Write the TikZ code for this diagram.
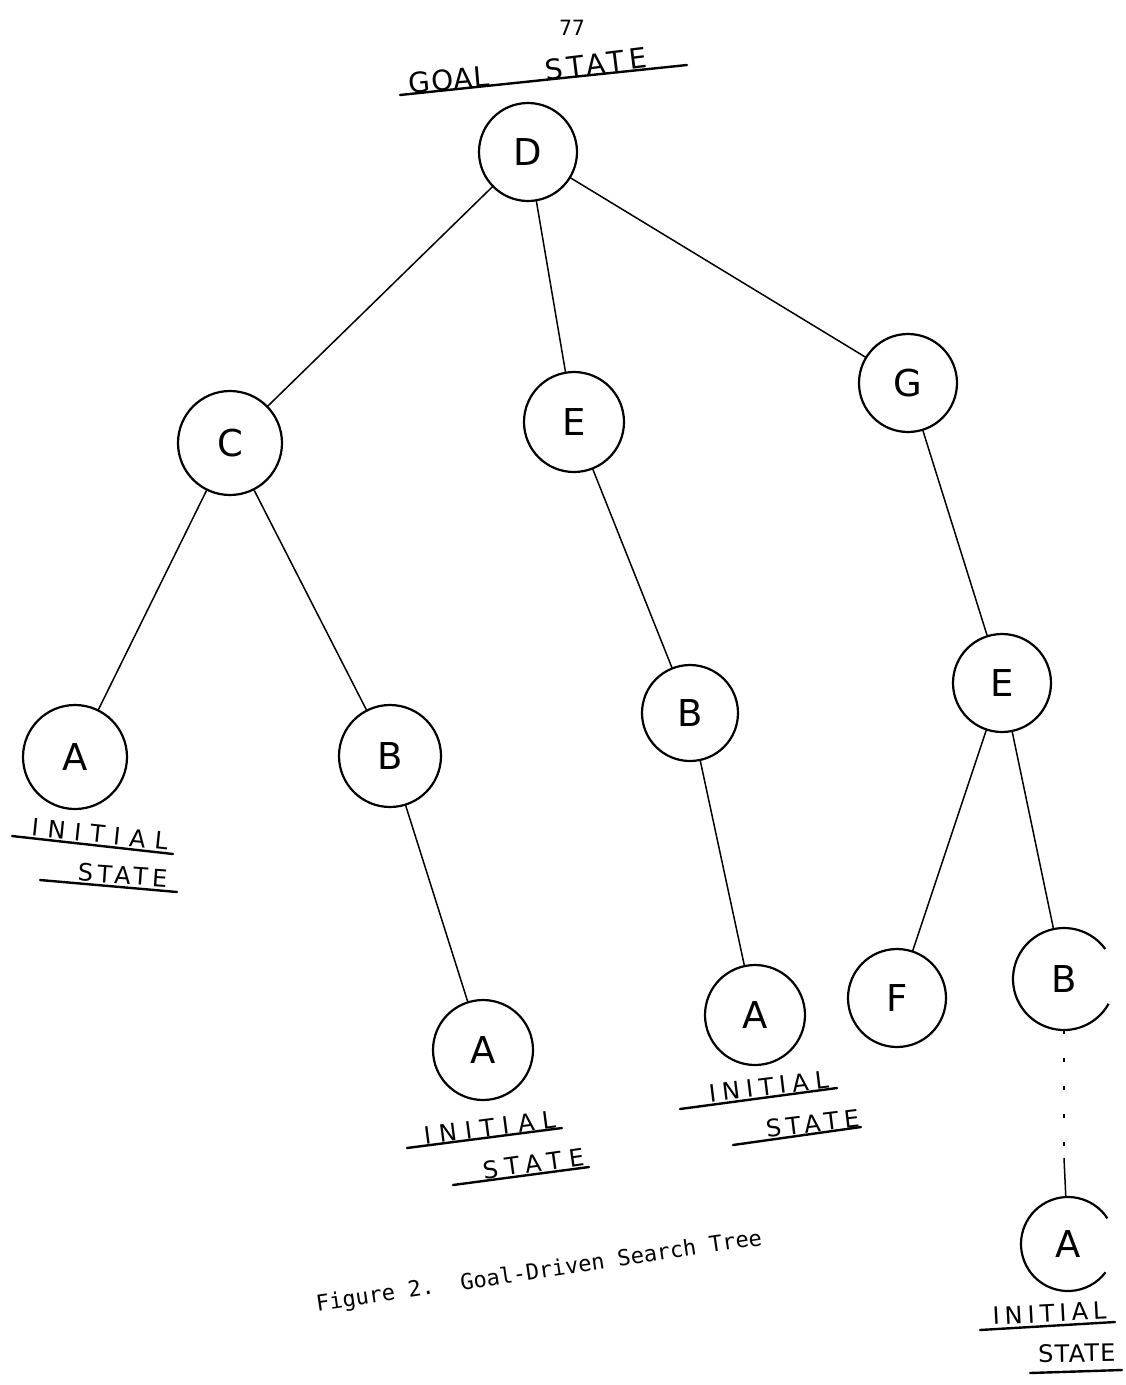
\documentclass[tikz,border=0pt]{standalone}
\usepackage{fontspec}
\newfontfamily\hand{DejaVu Sans}
\newfontfamily\typew{DejaVu Sans Mono}
\newcommand{\lsp}[1]{\addfontfeature{LetterSpace=#1}}
\tikzset{
  st/.style={circle, draw, line width=2.2pt, inner sep=0pt, outer sep=0pt,
             font=\hand\fontsize{37}{40}\selectfont},
  circ/.style={line width=2.2pt},
  edge/.style={line width=1.5pt},
  ul/.style={line width=2.4pt, line cap=round},
  lbl/.style={inner sep=0pt, anchor=base, font=\hand\fontsize{24}{28}\selectfont},
  big/.style={inner sep=0pt, anchor=base, font=\hand\fontsize{28}{31}\selectfont},
  tw/.style={inner sep=0pt, font=\typew\fontsize{22}{24}\selectfont}
}
\begin{document}
\begin{tikzpicture}[x=1pt, y=-1pt]
\useasboundingbox (0,0) rectangle (1126,1385);
\fill[white] (0,0) rectangle (1126,1385);

% page number and goal label
\node[tw, font=\typew\fontsize{21}{24}\selectfont] (pg) at (572,28) {77};
\node[big, rotate=5] (goal) at (450,90) {\lsp{4}GOAL};
\node[big, rotate=7] (goalst) at (597,74) {\lsp{16}STATE};
\draw[ul] (400,95) -- (687,65);

% nodes
\node[st, minimum size=98pt]  (D)  at (528,152)  {D};
\node[st, minimum size=104pt] (C)  at (230,443)  {C};
\node[st, minimum size=100pt] (E1) at (574,422)  {E};
\node[st, minimum size=98pt]  (G)  at (908,383)  {G};
\node[st, minimum size=104pt] (A1) at (75,757)   {A};
\node[st, minimum size=102pt] (B1) at (390,756)  {B};
\node[st, minimum size=96pt]  (B2) at (690,713)  {B};
\node[st, minimum size=98pt]  (E2) at (1002,683) {E};
\node[st, minimum size=100pt] (A2) at (483,1050) {A};
\node[st, minimum size=100pt] (A3) at (755,1015) {A};
\node[st, minimum size=98pt]  (F)  at (897,998)  {F};
\node[st, draw=none, minimum size=102pt] (B3) at (1064,979)  {B};
\node[st, draw=none, minimum size=94pt]  (A4) at (1068,1244) {A};
\draw[circ] (B3.36) arc[start angle=36, end angle=331, radius=51pt];
\draw[circ] (A4.33) arc[start angle=33, end angle=323, radius=47pt];

% edges
\draw[edge] (D) -- (C);
\draw[edge] (D) -- (E1);
\draw[edge] (D) -- (G);
\draw[edge] (C) -- (A1);
\draw[edge] (C) -- (B1);
\draw[edge] (E1) -- (B2);
\draw[edge] (G) -- (E2);
\draw[edge] (B1) -- (A2);
\draw[edge] (B2) -- (A3);
\draw[edge] (E2) -- (F);
\draw[edge] (E2) -- (B3);
\coordinate (dd) at (1064,1158);
\draw[edge, dash pattern=on 4pt off 24pt] (B3) -- (dd);
\draw[edge] (dd) -- (A4);

% INITIAL STATE labels
\node[lbl, rotate=-6] (i1) at (99,843) {\lsp{37}INITIAL};
\draw[ul] (12,836) -- (173,854);
\node[lbl, rotate=-4] (s1) at (122,884) {\lsp{18}STATE};
\draw[ul] (40,880) -- (177,892);

\node[lbl, rotate=7.5] (i2) at (491,1136) {\lsp{34}INITIAL};
\draw[ul] (407,1148) -- (562,1128);
\node[lbl, rotate=8] (s2) at (535,1172) {\lsp{31}STATE};
\draw[ul] (453,1185) -- (589,1167);

\node[lbl, rotate=7] (i3) at (770,1095) {\lsp{25}INITIAL};
\draw[ul] (680,1109) -- (837,1088);
\node[lbl, rotate=7] (s3) at (814,1132) {\lsp{22}STATE};
\draw[ul] (733,1145) -- (861,1127);

\node[lbl, rotate=3] (i4) at (1050,1322) {\lsp{21}INITIAL};
\draw[ul] (980,1330) -- (1115,1322);
\node[lbl, rotate=1] (s4) at (1077,1362) {\lsp{5}STATE};
\draw[ul] (1030,1373) -- (1122,1370);

% caption
\node[tw, rotate=8.5, anchor=base east] (cap) at (763,1245) {Figure 2.\ \ Goal-Driven Search Tree};
\end{tikzpicture}
\end{document}
